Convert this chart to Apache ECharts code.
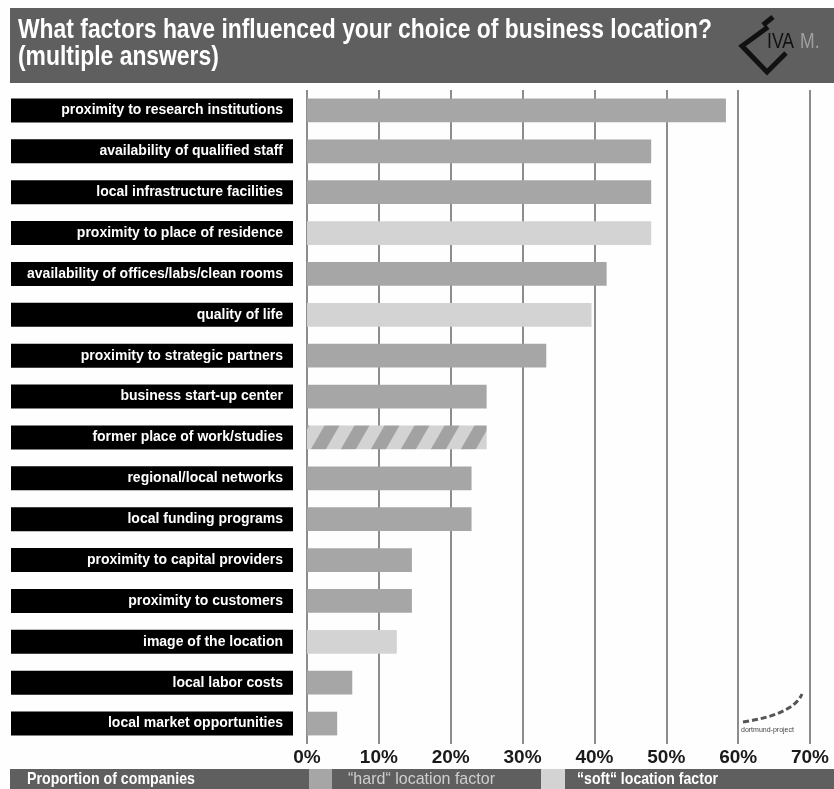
<!DOCTYPE html>
<html>
<head>
<meta charset="utf-8">
<script src="https://cdn.jsdelivr.net/npm/echarts@6/dist/echarts.min.js"></script>
<style>
html,body{margin:0;padding:0;background:#fefefe;}
#chart{width:834px;height:789px;}
</style>
</head>
<body>
<div id="chart"></div>
<script>
const categories = [
  'proximity to research institutions',
  'availability of qualified staff',
  'local infrastructure facilities',
  'proximity to place of residence',
  'availability of offices/labs/clean rooms',
  'quality of life',
  'proximity to strategic partners',
  'business start-up center',
  'former place of work/studies',
  'regional/local networks',
  'local funding programs',
  'proximity to capital providers',
  'proximity to customers',
  'image of the location',
  'local labor costs',
  'local market opportunities'
];
const values = [58.3, 47.9, 47.9, 47.9, 41.7, 39.6, 33.3, 25.0, 25.0, 22.9, 22.9, 14.6, 14.6, 12.5, 6.3, 4.2];
const factorTypes = ['hard','hard','hard','soft','hard','soft','hard','hard','mixed','hard','hard','hard','hard','soft','hard','hard'];
const xTickValues = [0, 10, 20, 30, 40, 50, 60, 70];
const titleLines = ['What factors have influenced your choice of business location?', '(multiple answers)'];
const legendLabels = ['Proportion of companies', '\u201chard\u201c location factor', '\u201csoft\u201c location factor'];

const HARD = '#a6a6a6', SOFT = '#d3d3d3';
function stripePattern() {
  const W = 30, H = 52, w = 15;
  const c = document.createElement('canvas');
  c.width = W; c.height = H;
  const g = c.getContext('2d');
  g.fillStyle = SOFT; g.fillRect(0, 0, W, H);
  g.fillStyle = '#a2a2a2';
  for (const o of [-W, 0, W]) {
    g.beginPath();
    g.moveTo(o, H); g.lineTo(o + W, 0); g.lineTo(o + W + w, 0); g.lineTo(o + w, H);
    g.closePath(); g.fill();
  }
  return c;
}
const pattern = { image: stripePattern(), repeat: 'repeat' };
const colorFor = t => t === 'hard' ? HARD : (t === 'soft' ? SOFT : pattern);

const FONT = '"Liberation Sans", Arial, sans-serif';
const mctx = document.createElement('canvas').getContext('2d');
function fitScale(text, font, target) {
  mctx.font = font;
  return target / mctx.measureText(text).width;
}
const titleFont = 'bold 27px ' + FONT;
const titleScale = fitScale(titleLines[0], titleFont, 694);
const legFontB = 'bold 17px ' + FONT, legFont = '17px ' + FONT;
const leg0 = fitScale(legendLabels[0], legFontB, 168);
const leg1 = fitScale(legendLabels[1], legFont, 147);
const leg2 = fitScale(legendLabels[2], legFontB, 141);
const logoFont = 'bold 22px ' + FONT;

const chart = echarts.init(document.getElementById('chart'), null, {renderer: 'canvas'});
chart.setOption({
  backgroundColor: '#fefefe',
  animation: false,
  grid: { left: 307, width: 503, top: 90, bottom: 45, containLabel: false },
  xAxis: {
    type: 'value', min: xTickValues[0], max: xTickValues[xTickValues.length - 1], interval: 10,
    axisLine: { show: false }, axisTick: { show: false },
    splitLine: { show: true, lineStyle: { color: '#8c8c8c', width: 2 } },
    axisLabel: {
      formatter: '{value}%', color: '#1a1a1a', fontWeight: 'bold', fontSize: 19,
      fontFamily: FONT, margin: 4
    }
  },
  yAxis: {
    type: 'category', data: categories, inverse: true,
    axisLine: { show: false }, axisTick: { show: false },
    axisLabel: {
      margin: 14, width: 262, height: 24, lineHeight: 24, padding: [0, 10, 0, 10],
      backgroundColor: '#000', color: '#fff', fontWeight: 'bold', fontSize: 14,
      fontFamily: FONT, align: 'right', overflow: 'none'
    }
  },
  series: [{
    type: 'bar', barCategoryGap: '42%',
    data: values.map((v, i) => ({ value: v, itemStyle: { color: colorFor(factorTypes[i]) } })),
    itemStyle: { borderWidth: 0 }
  }],
  graphic: [
    { type: 'rect', x: 10, y: 8, shape: { width: 824, height: 75 }, style: { fill: '#5f5f5f' }, z: -1 },
    { type: 'text', x: 18, y: 17, scaleX: titleScale, style: { text: titleLines[0], fill: '#fff', font: titleFont, textVerticalAlign: 'top' } },
    { type: 'text', x: 18, y: 44, scaleX: titleScale, style: { text: titleLines[1], fill: '#fff', font: titleFont, textVerticalAlign: 'top' } },
    // IVAM logo
    { type: 'polyline', shape: { points: [[768, 27], [742, 46], [767, 72], [786, 53]] }, style: { stroke: '#111', lineWidth: 5, fill: null, lineJoin: 'miter' } },
    { type: 'line', shape: { x1: 763, y1: 25, x2: 773, y2: 17 }, style: { stroke: '#111', lineWidth: 5 } },
    { type: 'text', x: 767, y: 31, scaleX: 0.8, style: { text: 'IVA', fill: '#111', font: '22px ' + FONT, textVerticalAlign: 'top' } },
    { type: 'text', x: 800, y: 31, scaleX: 0.8, style: { text: 'M.', fill: '#a0a0a0', font: '22px ' + FONT, textVerticalAlign: 'top' } },
    // dortmund-project logo
    { type: 'bezierCurve', shape: { x1: 743, y1: 722, cpx1: 770, cpy1: 718, cpx2: 795, cpy2: 710, x2: 802, y2: 694 }, style: { stroke: '#555', lineWidth: 3, lineDash: [6, 3], fill: null } },
    { type: 'text', x: 741, y: 727, style: { text: 'dortmund-project', fill: '#444', font: '7px ' + FONT, textVerticalAlign: 'top' } },
    // bottom band
    { type: 'rect', x: 10, y: 769, shape: { width: 824, height: 20 }, style: { fill: '#5f5f5f' }, z: -1 },
    { type: 'rect', x: 309, y: 769, shape: { width: 23, height: 20 }, style: { fill: HARD } },
    { type: 'rect', x: 541, y: 769, shape: { width: 24, height: 20 }, style: { fill: SOFT } },
    { type: 'text', x: 27, y: 779, scaleX: leg0, style: { text: legendLabels[0], fill: '#fff', font: legFontB, textVerticalAlign: 'middle' } },
    { type: 'text', x: 348, y: 779, scaleX: leg1, style: { text: legendLabels[1], fill: '#cfcfcf', font: legFont, textVerticalAlign: 'middle' } },
    { type: 'text', x: 577, y: 779, scaleX: leg2, style: { text: legendLabels[2], fill: '#fff', font: legFontB, textVerticalAlign: 'middle' } }
  ]
});
</script>
</body>
</html>
